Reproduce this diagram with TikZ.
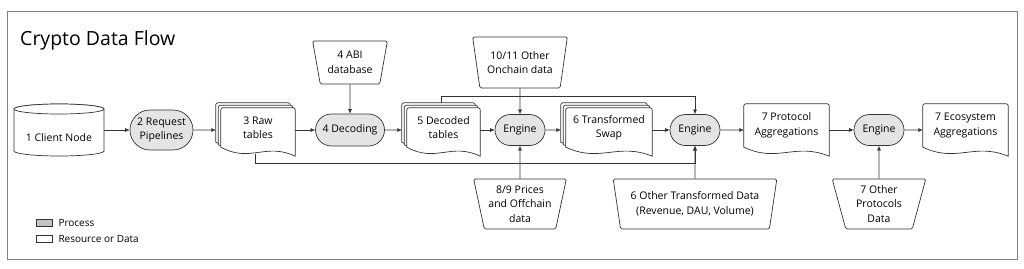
\documentclass[tikz,border=0pt]{standalone}
\usepackage{fontspec}
\setmainfont{Open Sans}
\usepackage{tikz}
\usetikzlibrary{arrows.meta,positioning,calc,shapes.geometric,shapes.misc,backgrounds}
\definecolor{cdline}{HTML}{333333}
\definecolor{cdframe}{HTML}{808080}
\definecolor{cdproc}{HTML}{E4E4E4}
\definecolor{cdlegend}{HTML}{C4C4C4}
\tikzset{
  proc/.style={rounded rectangle, draw=cdline, fill=cdproc, line width=0.7pt, inner sep=1pt, align=center},
  src/.style={trapezium, trapezium stretches=true, shape border rotate=180, trapezium angle=76,
    rounded corners=1.5pt, draw=cdline, fill=white, line width=0.7pt, inner sep=1pt, align=center},
  doc/.style={inner sep=0pt, align=center},
  docline/.style={draw=cdline, fill=white, line width=0.7pt},
  arr/.style={-{Latex[length=4.5pt,width=4pt]}, cdline, line width=0.6pt},
  legbox/.style={draw=cdline, line width=0.6pt, minimum width=16pt, minimum height=7pt, inner sep=0pt},
}
% document outline below a text node: node, width, offset of the sheet
\newcommand{\docshape}[3]{%
  \draw[docline] ($(#1.south west)+(-#3,-#3)$) .. controls +(0.4*#2,16) and +(-0.4*#2,-14) .. ($(#1.south east)+(-#3,9-#3)$)
    [rounded corners=2pt] -- ($(#1.north east)+(-#3,-#3)$) -- ($(#1.north west)+(-#3,-#3)$) [sharp corners] -- cycle;}

\begin{document}
\begin{tikzpicture}[x=1pt,y=-1pt,font=\fontsize{10.5}{14.5}\selectfont]
  \useasboundingbox (0,0) rectangle (1024,268);
  \draw[cdframe, line width=1pt] (7,11) rectangle (1017,259);
  \node[font=\fontsize{19.5}{23}\selectfont, anchor=base west, inner sep=0pt] (title) at (20,45) {Crypto Data Flow};

  % main row
  \node[doc, minimum width=90pt, minimum height=36pt] (client) at (59,137.5) {1 Client Node};
  \node[proc, minimum width=65pt, minimum height=40pt] (pipe) at (161.5,130) {2 Request\\Pipelines};
  \node[doc, minimum width=74pt, minimum height=39pt] (raw) at (258,127.5) {3 Raw\\tables};
  \node[proc, minimum width=71pt, minimum height=32pt] (decod) at (350,130) {4 Decoding};
  \node[doc, minimum width=73pt, minimum height=39pt] (dect) at (443.5,127.5) {5 Decoded\\tables};
  \node[doc, minimum width=86pt, minimum height=39pt] (swap) at (609,127.5) {6 Transformed\\Swap};
  \node[doc, minimum width=85pt, minimum height=43pt] (prot) at (786.5,125.5) {7 Protocol\\Aggregations};
  \node[doc, minimum width=85pt, minimum height=43pt] (eco) at (965.5,125.5) {7 Ecosystem\\Aggregations};
  \foreach \n/\x in {eng1/520, eng2/695, eng3/879}
    \node[proc, minimum width=52pt, minimum height=31pt] (\n) at (\x,130) {Engine};

  % inputs
  \node[src, minimum width=75pt, minimum height=43pt] (abi) at (350,62.5) {4 ABI\\database};
  \node[src, minimum width=95pt, minimum height=51pt] (onchain) at (520,62.5) {10/11 Other\\Onchain data};
  \node[src, minimum width=93pt, minimum height=50pt] (prices) at (520,204) {8/9 Prices\\and Offchain\\data};
  \node[src, minimum width=164pt, minimum height=50pt] (othertr) at (695,204) {6 Other Transformed Data\\(Revenue, DAU, Volume)};
  \node[src, minimum width=94pt, minimum height=50pt] (otherprot) at (879,204) {7 Other\\Protocols\\Data};

  % legend
  \node[legbox, fill=cdlegend] (legproc) at (44,222.5) {};
  \node[legbox, fill=white] (legres) at (44,238.5) {};
  \node[right=6pt of legproc, inner sep=0pt, font=\fontsize{10}{12}\selectfont] (legproct) {Process};
  \node[right=6pt of legres, inner sep=0pt, font=\fontsize{10}{12}\selectfont] (legrest) {Resource or Data};

  \begin{scope}[on background layer]
    \draw[docline] (14,109) -- (14,151) arc[start angle=180, end angle=0, x radius=45, y radius=5]
      -- (104,109) arc[start angle=0, end angle=-180, x radius=45, y radius=5] -- cycle;
    \draw[docline] (59,109) ellipse[x radius=45, y radius=5];
    \foreach \o in {5,2.5,0} {
      \docshape{raw}{74}{\o}
      \docshape{dect}{73}{\o}
      \docshape{swap}{86}{\o}
    }
    \docshape{prot}{85}{0}
    \docshape{eco}{85}{0}
  \end{scope}

  % connectors
  \draw[arr] (client.east |- pipe) -- (pipe);
  \draw[arr] (pipe) -- ($(pipe -| raw.west)+(-5,0)$);
  \draw[arr] (raw.east |- decod) -- (decod);
  \draw[arr] (abi) -- (decod);
  \draw[arr] (decod) -- ($(decod -| dect.west)+(-5,0)$);
  \draw[arr] (dect.east |- eng1) -- (eng1);
  \draw[arr] (onchain) -- (eng1);
  \draw[arr] (prices) -- (eng1);
  \draw[arr] (eng1) -- ($(eng1 -| swap.west)+(-5,0)$);
  \draw[arr] (swap.east |- eng2) -- (eng2);
  \draw[arr] (othertr) -- (eng2);
  \draw[arr] ($(raw.south)+(-3,7)$) -- ++(0,9.5) -| (eng2.south);
  \draw[arr] ($(dect.north)+(-2,-5)$) -- ++(0,-7) -| (eng2.north);
  \draw[arr] (eng2) -- (eng2 -| prot.west);
  \draw[arr] (prot.east |- eng3) -- (eng3);
  \draw[arr] (otherprot) -- (eng3);
  \draw[arr] (eng3) -- (eng3 -| eco.west);
\end{tikzpicture}
\end{document}
